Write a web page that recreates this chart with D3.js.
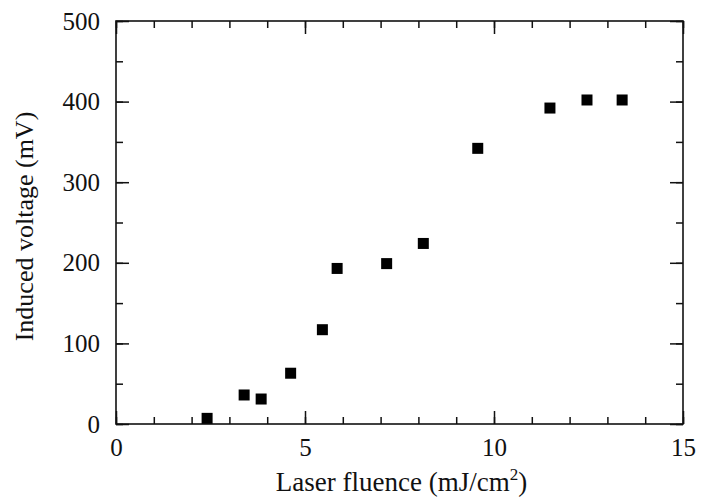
<!DOCTYPE html>
<html>
<head>
<meta charset="utf-8">
<script src="https://cdn.jsdelivr.net/npm/d3@7"></script>
<style>
  body { margin: 0; background: #fff; }
  text { font-family: "Liberation Serif", "DejaVu Serif", serif; fill: #111; }
</style>
</head>
<body>
<script>
// Width and height
const w = 712;
const h = 501;

// data
const fluence = [2.41, 3.39, 3.84, 4.62, 5.46, 5.85, 7.16, 8.13, 9.57, 11.48, 12.46, 13.39];
const voltage = [7, 36, 31, 63, 117, 193, 199, 224, 342, 392, 402, 402];
const xTicks = [0, 5, 10, 15];
const yTicks = [0, 100, 200, 300, 400, 500];

const margin = {left: 116, right: 29, top: 21, bottom: 77};

const x = d3.scaleLinear().domain([0, 15]).range([margin.left, w - margin.right]);
const y = d3.scaleLinear().domain([0, 500]).range([h - margin.bottom, margin.top]);

const svg = d3.select("body").append("svg")
  .attr("width", w)
  .attr("height", h);

// draw an axis, keep only its ticks (frame drawn separately)
function drawAxis(axis, tr) {
  svg.append("g").attr("transform", tr).call(axis)
    .call(s => s.select(".domain").remove())
    .call(s => s.selectAll("line").attr("stroke", "#111").attr("stroke-width", 1.5));
}

const xMinor = d3.range(0, 16, 1);
const yMinor = d3.range(0, 501, 50);
const yB = y(0), yT = y(500), xL = x(0), xR = x(15);

// minor ticks
drawAxis(d3.axisBottom(x).tickValues(xMinor).tickSize(-7).tickFormat(""), `translate(0,${yB})`);
drawAxis(d3.axisTop(x).tickValues(xMinor).tickSize(-7).tickFormat(""), `translate(0,${yT})`);
drawAxis(d3.axisLeft(y).tickValues(yMinor).tickSize(-7).tickFormat(""), `translate(${xL},0)`);
drawAxis(d3.axisRight(y).tickValues(yMinor).tickSize(-7).tickFormat(""), `translate(${xR},0)`);

// major ticks + labels
drawAxis(d3.axisBottom(x).tickValues(xTicks).tickSize(-13).tickPadding(14).tickFormat(d3.format("d")), `translate(0,${yB})`);
drawAxis(d3.axisTop(x).tickValues(xTicks).tickSize(-13).tickFormat(""), `translate(0,${yT})`);
drawAxis(d3.axisLeft(y).tickValues(yTicks).tickSize(-13).tickPadding(16).tickFormat(d3.format("d")), `translate(${xL},0)`);
drawAxis(d3.axisRight(y).tickValues(yTicks).tickSize(-13).tickFormat(""), `translate(${xR},0)`);

svg.selectAll(".tick text")
  .style("font-family", "'Liberation Serif', serif")
  .style("font-size", "25px")
  .attr("fill", "#111");

// frame
svg.append("rect")
  .attr("x", xL).attr("y", yT)
  .attr("width", xR - xL).attr("height", yB - yT)
  .attr("fill", "none").attr("stroke", "#111").attr("stroke-width", 1.6);

// points
const pts = fluence.map((f, i) => ({f: f, v: voltage[i]}));
const sz = 11;
svg.selectAll("rect.pt")
  .data(pts)
  .enter()
  .append("rect")
  .attr("class", "pt")
  .attr("x", d => x(d.f) - sz / 2)
  .attr("y", d => y(d.v) - sz / 2)
  .attr("width", sz).attr("height", sz)
  .attr("fill", "#000");

// axis titles
const xl = svg.append("text")
  .attr("x", (xL + xR) / 2 + 2)
  .attr("y", 491)
  .attr("text-anchor", "middle")
  .style("font-size", "27px");
xl.append("tspan").text("Laser fluence (mJ/cm");
xl.append("tspan").attr("dy", -11).style("font-size", "17px").text("2");
xl.append("tspan").attr("dy", 11).text(")");

svg.append("text")
  .attr("transform", `translate(33,${(yT + yB) / 2 + 4}) rotate(-90)`)
  .attr("text-anchor", "middle")
  .style("font-size", "26px")
  .text("Induced voltage (mV)");
</script>
</body>
</html>
